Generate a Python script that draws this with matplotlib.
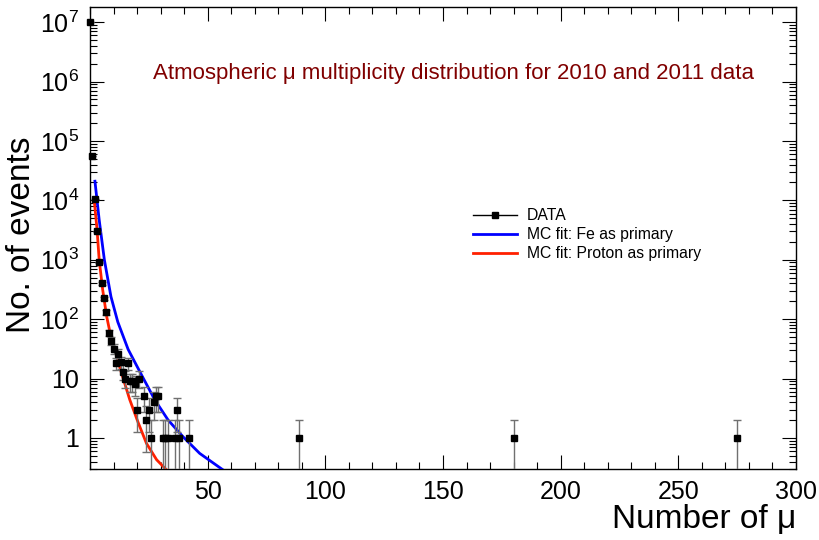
import numpy as np
import matplotlib
matplotlib.use("Agg")
import matplotlib.pyplot as plt
from matplotlib.ticker import FixedLocator, MultipleLocator, LogLocator, NullFormatter

plt.rcParams['font.family'] = ['Liberation Sans', 'DejaVu Sans']
plt.rcParams['mathtext.fontset'] = 'custom'
plt.rcParams['mathtext.rm'] = 'Liberation Sans'

# data: muon multiplicity vs number of events
mult = [0, 1, 2, 3, 4, 5, 6, 7, 8, 9, 10, 11, 12, 13, 14, 15, 16, 17, 18, 19,
        20, 21, 23, 24, 25, 26, 27, 28, 29, 31, 32, 33, 36, 37, 38, 42, 89, 180, 275]
events = [1.0e7, 55000, 10500, 3000, 900, 400, 225, 130, 59, 43, 32, 18, 26, 19, 13, 10, 18, 9, 9, 8,
          3, 10, 5, 2, 3, 1, 4, 5, 5, 1, 1, 1, 1, 3, 1, 1, 1, 1, 1]

# MC fit curves
fe_x = [2.1, 3.9, 6.1, 8.9, 11.8, 16.2, 21.9, 27.5, 33.2, 39.5, 46.6, 56.5]
fe_y = [21000, 4700, 1000, 240, 90, 31, 11.5, 4.4, 2.0, 1.05, 0.55, 0.29]
p_x = [1.8, 3.0, 3.9, 5.4, 7.1, 9.0, 10.8, 13.4, 16.9, 20.5, 24.0, 28.3, 32.5]
p_y = [10000, 3200, 1000, 310, 110, 48, 28, 12.3, 4.4, 1.8, 0.81, 0.43, 0.29]

ytick_vals = [1, 10, 1e2, 1e3, 1e4, 1e5, 1e6, 1e7]
ytick_labels = ['1', '10', r'$\mathregular{10^{2}}$', r'$\mathregular{10^{3}}$', r'$\mathregular{10^{4}}$',
                r'$\mathregular{10^{5}}$', r'$\mathregular{10^{6}}$', r'$\mathregular{10^{7}}$']

mult = np.array(mult, dtype=float)
events = np.array(events)
err = np.sqrt(events)
lo = np.minimum(err, events - 1e-3)

fig = plt.figure(figsize=(8.19, 5.40), dpi=100)
ax = fig.add_axes([90/819, 1-469/540, 706/819, 462/540])

h_fe, = ax.plot(fe_x, fe_y, color='#0000ff', lw=2, zorder=3)
h_p, = ax.plot(p_x, p_y, color='#ff2000', lw=2, zorder=3)
eb = ax.errorbar(mult, events, yerr=[lo, err], fmt='s', color='black', ms=5,
                 ecolor='#707070', elinewidth=1, capsize=3, capthick=1, zorder=4)
eb[0].set_clip_on(False)
h_data, = ax.plot([], [], color='black', lw=1, marker='s', ms=4)

ax.set_yscale('log')
ax.set_xlim(0, 300)
ax.set_ylim(0.3, 1.8e7)

ax.xaxis.set_major_locator(FixedLocator([50, 100, 150, 200, 250, 300]))
ax.xaxis.set_minor_locator(MultipleLocator(10))
ax.set_yticks(ytick_vals)
ax.set_yticklabels(ytick_labels)
ax.yaxis.set_minor_locator(LogLocator(base=10, subs=np.arange(2, 10), numticks=12))
ax.yaxis.set_minor_formatter(NullFormatter())

ax.tick_params(which='both', direction='in', top=True, right=True, labelsize=18, colors='black')
ax.tick_params(which='major', length=10, width=0.8)
ax.tick_params(which='minor', length=5, width=0.8)
ax.tick_params(axis='x', pad=8)
ax.tick_params(axis='y', pad=8)
for s in ax.spines.values():
    s.set_linewidth(1)

fig.text(153/819, 1-73/540, 'Atmospheric \u03bc multiplicity distribution for 2010 and 2011 data',
         color='#800000', fontsize=16, va='center', ha='left')
fig.text(22/819, 1-235/540, 'No. of events', rotation=90, fontsize=24, va='center', ha='center')
fig.text(796/819, 1-520/540, 'Number of \u03bc', fontsize=24, va='center', ha='right')

fig.legend([h_data, h_fe, h_p], ['DATA', 'MC fit: Fe as primary', 'MC fit: Proton as primary'],
           loc='upper left', bbox_to_anchor=(467/819, 1-202/540), frameon=False,
           fontsize=11.3, handlelength=2.8, handletextpad=0.6, labelspacing=0.25, borderaxespad=0)

fig.savefig('out.png', dpi=100)
